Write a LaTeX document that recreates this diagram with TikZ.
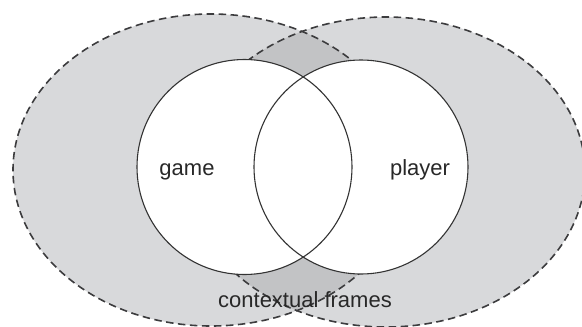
\documentclass[tikz,border=0pt]{standalone}
\usepackage{fontspec}
\setmainfont{Liberation Sans}
\definecolor{framefill}{RGB}{216,217,219}
\definecolor{frameover}{RGB}{194,195,197}
\definecolor{lineg}{RGB}{60,60,62}
\definecolor{textg}{RGB}{40,40,40}
\begin{document}
\begin{tikzpicture}[x=1pt,y=-1pt,
  frameline/.style={draw=lineg, line width=1.6pt, dash pattern=on 7.5pt off 4.5pt},
  circleline/.style={draw=black!80, line width=1.1pt},
  lbl/.style={font=\fontsize{22}{26}\selectfont, text=textg, inner sep=0pt, anchor=base}]
\useasboundingbox (0,0) rectangle (582,327);
\clip (0,0) rectangle (582,327);
% context frames
\fill[framefill] (211,170) ellipse [x radius=198pt, y radius=156pt];
\fill[framefill] (386,172) ellipse [x radius=199pt, y radius=155pt];
\begin{scope}
  \clip (211,170) ellipse [x radius=198pt, y radius=156pt];
  \fill[frameover] (386,172) ellipse [x radius=199pt, y radius=155pt];
\end{scope}
\draw[frameline] (211,170) ellipse [x radius=198pt, y radius=156pt];
\draw[frameline] (386,172) ellipse [x radius=199pt, y radius=155pt];
% game and player circles
\fill[white] (244.5,167) circle [radius=107.5pt];
\fill[white] (361,167) circle [radius=107pt];
\draw[circleline] (244.5,167) circle [radius=107.5pt];
\draw[circleline] (361,167) circle [radius=107pt];
% labels
\node[lbl] (game) at (187,175) {game};
\node[lbl] (player) at (420,175) {player};
\node[lbl] (frames) at (305,307) {contextual frames};
\end{tikzpicture}
\end{document}
